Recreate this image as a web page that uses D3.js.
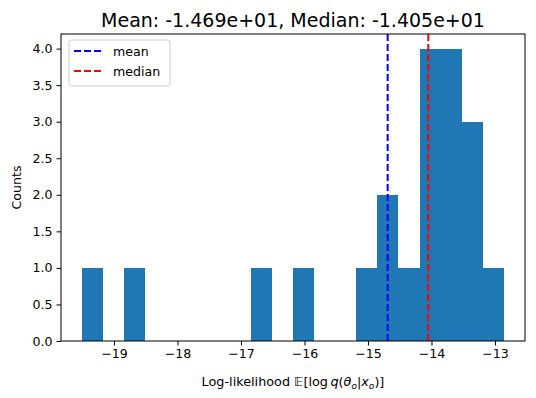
<!DOCTYPE html>
<html><head><meta charset="utf-8">
<script src="https://cdn.jsdelivr.net/npm/d3@7"></script>
<style>body{margin:0;background:#fff}svg{display:block}text{font-family:"DejaVu Sans",sans-serif;fill:#000}</style>
</head><body>
<script>
const binStart = -19.503;
const binEnd = -12.859;
const binCounts = [1,0,1,0,0,0,0,0,1,0,1,0,0,1,2,1,4,4,3,1];
const meanValue = -14.69;
const medianValue = -14.05;
const xTicks = [-19,-18,-17,-16,-15,-14,-13];
const yTicks = [0,0.5,1,1.5,2,2.5,3,3.5,4];
const legendItems = [{label:"mean", color:"blue"},{label:"median", color:"red"}];

const W=536,H=398;
const m={l:61,r:11,t:34,b:57};
const svg=d3.select("body").append("svg").attr("width",W).attr("height",H);
const n=binCounts.length, bw=(binEnd-binStart)/n;
const bins=binCounts.map((c,i)=>({x0:binStart+i*bw,x1:binStart+(i+1)*bw,c}));
const pad=(binEnd-binStart)*0.05;
const x=d3.scaleLinear().domain([binStart-pad,binEnd+pad]).range([m.l,W-m.r]);
const y=d3.scaleLinear().domain([0,d3.max(binCounts)*1.05]).range([H-m.b,m.t]);

svg.append("g").attr("shape-rendering","crispEdges").selectAll("rect").data(bins.filter(b=>b.c>0)).join("rect")
 .attr("x",d=>x(d.x0)).attr("width",d=>x(d.x1)-x(d.x0))
 .attr("y",d=>y(d.c)).attr("height",d=>y(0)-y(d.c)).attr("fill","#1f77b4");

[[meanValue,"blue"],[medianValue,"red"]].forEach(([v,c])=>{
 svg.append("line").attr("x1",x(v)).attr("x2",x(v)).attr("y1",y.range()[1]).attr("y2",y.range()[0])
  .attr("stroke",c).attr("stroke-width",2).attr("stroke-dasharray","7,3");
});

const fmt=d=>d<0?"\u2212"+Math.abs(d):d;
const xa=svg.append("g").attr("transform",`translate(0,${H-m.b})`)
 .call(d3.axisBottom(x).tickValues(xTicks).tickFormat(fmt).tickSizeOuter(0).tickSize(4.5).tickPadding(4));
const ya=svg.append("g").attr("transform",`translate(${m.l},0)`)
 .call(d3.axisLeft(y).tickValues(yTicks).tickFormat(d3.format(".1f")).tickSizeOuter(0).tickSize(4.5).tickPadding(4));
[xa,ya].forEach(a=>{a.selectAll("text").attr("font-size",12.6).attr("font-family","DejaVu Sans").attr("fill","#000");a.selectAll("line").attr("stroke","#000").attr("stroke-width",1);a.select(".domain").remove();});

svg.append("rect").attr("x",m.l).attr("y",m.t).attr("width",W-m.l-m.r).attr("height",H-m.t-m.b)
 .attr("fill","none").attr("stroke","#000").attr("stroke-width",1);

svg.append("text").attr("x",(m.l+W-m.r)/2).attr("y",26.5).attr("text-anchor","middle").attr("font-size",19)
 .text(`Mean: ${meanValue.toExponential(3).replace(/e([+-])(\d)$/,"e$10$2")}, Median: ${medianValue.toExponential(3).replace(/e([+-])(\d)$/,"e$10$2")}`);

svg.append("text").attr("transform",`translate(21,${(m.t+H-m.b)/2}) rotate(-90)`).attr("text-anchor","middle").attr("font-size",12.6).text("Counts");

const xl=svg.append("text").attr("x",(m.l+W-m.r)/2).attr("y",386).attr("text-anchor","middle").attr("font-size",12.8);
xl.append("tspan").text("Log-likelihood \uD835\uDD3C[log\u2009");
xl.append("tspan").attr("font-style","italic").text("q");
xl.append("tspan").text("(");
xl.append("tspan").attr("font-style","italic").text("\u03B8");
xl.append("tspan").attr("font-style","italic").attr("font-size",9).attr("dy",2.5).text("o");
xl.append("tspan").attr("dy",-2.5).text("|");
xl.append("tspan").attr("font-style","italic").text("x");
xl.append("tspan").attr("font-style","italic").attr("font-size",9).attr("dy",2.5).text("o");
xl.append("tspan").attr("dy",-2.5).text(")]");

const lg=svg.append("g").attr("transform",`translate(${m.l+8},${m.t+6})`);
lg.append("rect").attr("width",101).attr("height",46).attr("rx",2.5).attr("fill","#fff").attr("fill-opacity",0.8).attr("stroke","#ccc").attr("stroke-width",1);
legendItems.forEach((d,i)=>{
 const yy=11+i*20;
 lg.append("line").attr("x1",5).attr("x2",33).attr("y1",yy).attr("y2",yy).attr("stroke",d.color).attr("stroke-width",2).attr("stroke-dasharray","7,3");
 lg.append("text").attr("x",44).attr("y",yy+4.5).attr("font-size",12.6).text(d.label);
});
</script>
</body></html>
